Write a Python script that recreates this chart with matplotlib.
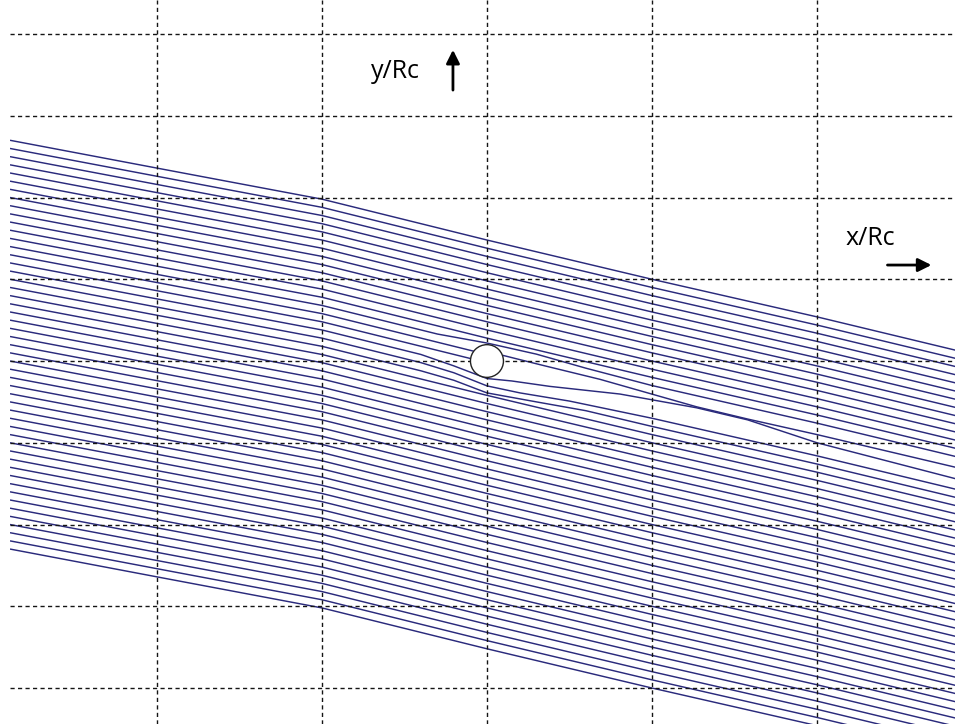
import numpy as np
import matplotlib
matplotlib.use("Agg")
import matplotlib.pyplot as plt
from matplotlib.patches import Circle

# ---- data (units of x/Rc and y/Rc) ----
# starting heights of the streamlines at the left edge
start_y = [13.5, 13.0, 12.5, 12.0, 11.5, 11.0, 10.5, 10.0, 9.5, 9.0,
           8.5, 8.0, 7.5, 7.0, 6.5, 6.0, 5.5, 5.0, 4.5, 4.0,
           3.5, 3.0, 2.5, 2.0, 1.5, 1.0, 0.5, 0.0, -0.5, -1.0,
           -1.5, -2.0, -2.5, -3.0, -3.5, -4.0, -4.5, -5.0, -5.5, -6.0,
           -6.5, -7.0, -7.5, -8.0, -8.5, -9.0, -9.5, -10.0, -10.5, -11.0,
           -11.5]
# common descent of the undisturbed streamlines
profile_x = [-28.9, -20.0, -10.0, 0.0, 10.0, 20.0, 28.4]
profile_drop = [0.0, -1.7, -3.6, -6.1, -8.5, -10.8, -12.84]

# streamlines disturbed by the cylinder (start height -> list of path pieces)
line70_x = [-28.9, -20.0, -10.0, -3.0, 0.0, 3.0, 6.0, 10.0, 20.0, 28.4]
line70_y = [7.0, 5.3, 3.4, 1.65, 1.1, 0.42, -0.44, -1.5, -3.8, -5.84]
line65a_x = [-28.9, -20.0, -10.0, -0.8]
line65a_y = [6.5, 4.8, 2.9, 0.6]
line65b_x = [0.95, 3.2, 6.85, 12.7, 15.8, 20.0, 28.4]
line65b_y = [0.35, -0.22, -1.12, -2.8, -3.55, -4.5, -6.5]
line60_x = [-28.9, -20.0, -10.0, -0.99]
line60_y = [6.0, 4.3, 2.4, 0.15]
line55_x = [-28.9, -20.0, -10.0, -4.0, -2.0, 0.0, 1.5, 3.8, 8.06, 12.7, 15.8, 20.0, 28.4]
line55_y = [5.5, 3.8, 1.9, 0.4, -0.3, -1.07, -1.22, -1.55, -2.02, -2.86, -3.6, -5.0, -7.2]
line50_x = [-28.9, -20.0, -10.0, -4.0, -2.0, 0.0, 2.0, 5.0, 10.0, 20.0, 28.4]
line50_y = [5.0, 3.3, 1.4, -0.1, -0.72, -1.52, -1.95, -2.45, -3.5, -5.8, -7.84]
line45_x = [-28.9, -20.0, -10.0, -4.0, -2.0, 0.0, 3.0, 6.0, 10.0, 20.0, 28.4]
line45_y = [4.5, 2.8, 0.9, -0.6, -1.18, -1.95, -2.5, -3.04, -4.0, -6.3, -8.34]
special = {
    7.0: [(line70_x, line70_y)],
    6.5: [(line65a_x, line65a_y), (line65b_x, line65b_y)],
    6.0: [(line60_x, line60_y)],
    5.5: [(line55_x, line55_y)],
    5.0: [(line50_x, line50_y)],
    4.5: [(line45_x, line45_y)],
}

grid_x = [-20, -10, 0, 10, 20]
grid_y = [-20, -15, -10, -5, 0, 5, 10, 15, 20]
cyl_radius = 1.0

# ---- figure ----
fig = plt.figure(figsize=(9.55, 7.24), dpi=100)
ax = fig.add_axes([10 / 955, 0, 945 / 955, 1])
ax.set_xlim(-28.9, 28.36)
ax.set_ylim(-22.2, 22.08)
ax.axis("off")

line_color = "#2a2a7c"
for y0 in start_y:
    if y0 in special:
        pieces = special[y0]
    else:
        pieces = [(profile_x, [y0 + d for d in profile_drop])]
    for xs, ys in pieces:
        ax.plot(xs, ys, color=line_color, lw=1.05, zorder=2, solid_capstyle="butt")

for gx in grid_x:
    ax.axvline(gx, color="#151515", lw=1.0, ls=(0, (3, 2.4)), zorder=3)
for gy in grid_y:
    ax.axhline(gy, color="#151515", lw=1.0, ls=(0, (3, 2.4)), zorder=3)

ax.add_patch(Circle((0, 0), cyl_radius, facecolor="white", edgecolor="#222222",
                    lw=1.0, zorder=5))

font = ["Open Sans", "DejaVu Sans"]
ax.text(-5.55, 17.7, "y/Rc", fontsize=18, family=font, ha="center", va="center", zorder=6)
ax.annotate("", xy=(-2.06, 19.2), xytext=(-2.06, 16.4),
            arrowprops=dict(arrowstyle="-|>", color="black", lw=2.0, mutation_scale=20),
            zorder=6)
ax.text(23.2, 7.5, "x/Rc", fontsize=18, family=font, ha="center", va="center", zorder=6)
ax.annotate("", xy=(27.1, 5.87), xytext=(24.1, 5.87),
            arrowprops=dict(arrowstyle="-|>", color="black", lw=2.0, mutation_scale=20),
            zorder=6)

fig.savefig("out.png", dpi=100, facecolor="white")
